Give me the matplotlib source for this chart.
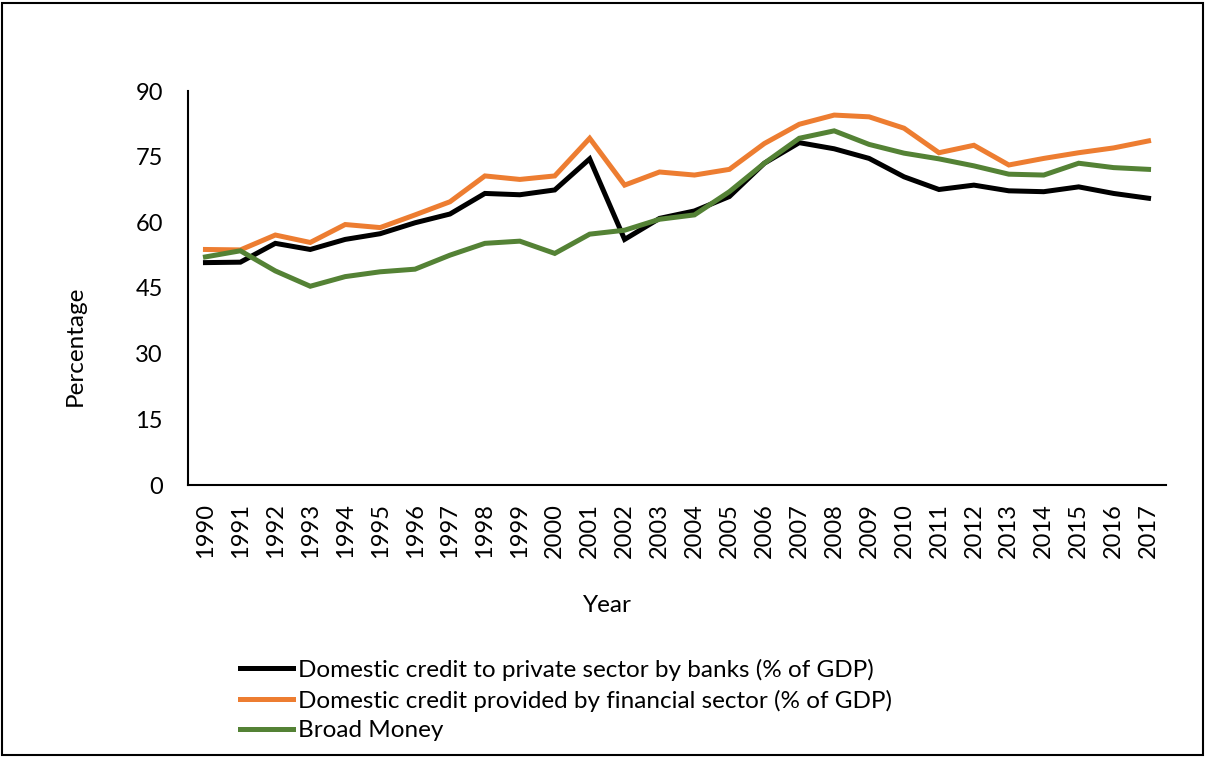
import matplotlib
matplotlib.use("Agg")
import matplotlib.pyplot as plt
from matplotlib.patches import Rectangle

years = list(range(1990, 2018))
year_labels = [str(y) for y in years]

credit_banks = [50.8, 50.9, 55.2, 53.8, 56.1, 57.4, 59.9, 61.9, 66.6, 66.3,
                67.4, 74.5, 56.1, 60.9, 62.6, 65.9, 73.5, 78.2, 76.8, 74.6,
                70.4, 67.5, 68.5, 67.2, 67.0, 68.1, 66.6, 65.5]
credit_financial = [53.8, 53.7, 57.1, 55.4, 59.5, 58.8, 61.7, 64.7, 70.6, 69.8,
                    70.6, 79.2, 68.5, 71.5, 70.8, 72.1, 78.0, 82.4, 84.5, 84.1,
                    81.5, 75.9, 77.6, 73.1, 74.6, 75.9, 77.0, 78.6]
broad_money = [52.1, 53.5, 48.9, 45.4, 47.6, 48.7, 49.3, 52.5, 55.2, 55.7,
               52.9, 57.3, 58.2, 60.7, 61.7, 67.0, 73.5, 79.2, 80.9, 77.8,
               75.8, 74.5, 72.9, 71.0, 70.8, 73.5, 72.5, 72.1]

series_names = ["Domestic credit to private sector by banks (% of GDP)",
                "Domestic credit provided by financial sector (% of GDP)",
                "Broad Money"]
series_colors = ["#000000", "#ED7D31", "#548235"]
yticks = [0, 15, 30, 45, 60, 75, 90]

plt.rcParams['font.family'] = ['Lato', 'DejaVu Sans']
FS = 17

fig = plt.figure(figsize=(12.07, 7.57), dpi=100)
fig.patch.set_facecolor('white')
fig.add_artist(Rectangle((0.002, 0.003), 0.995, 0.993, transform=fig.transFigure,
                         fill=False, edgecolor='black', linewidth=1.5))

ax = fig.add_axes([188/1207, 1-485/757, (1166-188)/1207, (485-91)/757])
x = list(range(len(years)))
for vals, name, col in zip([credit_banks, credit_financial, broad_money], series_names, series_colors):
    ax.plot(x, vals, color=col, linewidth=3.6, label=name, solid_joinstyle='miter')

ax.set_xlim(-0.5, len(years) - 0.5)
ax.set_ylim(0, 90)
ax.set_yticks(yticks)
ax.set_yticklabels([str(v) for v in yticks], fontsize=FS)
ax.set_xticks(x)
ax.set_xticklabels(year_labels, rotation=90, fontsize=FS)
ax.tick_params(axis='y', length=0, pad=18)
ax.tick_params(axis='x', length=0, pad=13)
for s in ['top', 'right']:
    ax.spines[s].set_visible(False)
for s in ['left', 'bottom']:
    ax.spines[s].set_color('black')
    ax.spines[s].set_linewidth(1.5)

fig.text(607/1207, 1-605/757, "Year", ha='center', va='center', fontsize=FS + 0.5)
fig.text(75/1207, 1-346/757, "Percentage", ha='center', va='center', rotation=90, fontsize=FS + 0.5)

leg = fig.legend(loc='center left', bbox_to_anchor=(240/1207, 1-700/757), frameon=False,
                 fontsize=FS + 0.5, handlelength=2.2, handletextpad=0.2, labelspacing=0.36,
                 borderaxespad=0, borderpad=0)
for line in leg.get_lines():
    line.set_linewidth(3.6)

fig.savefig("out.png", dpi=100)
